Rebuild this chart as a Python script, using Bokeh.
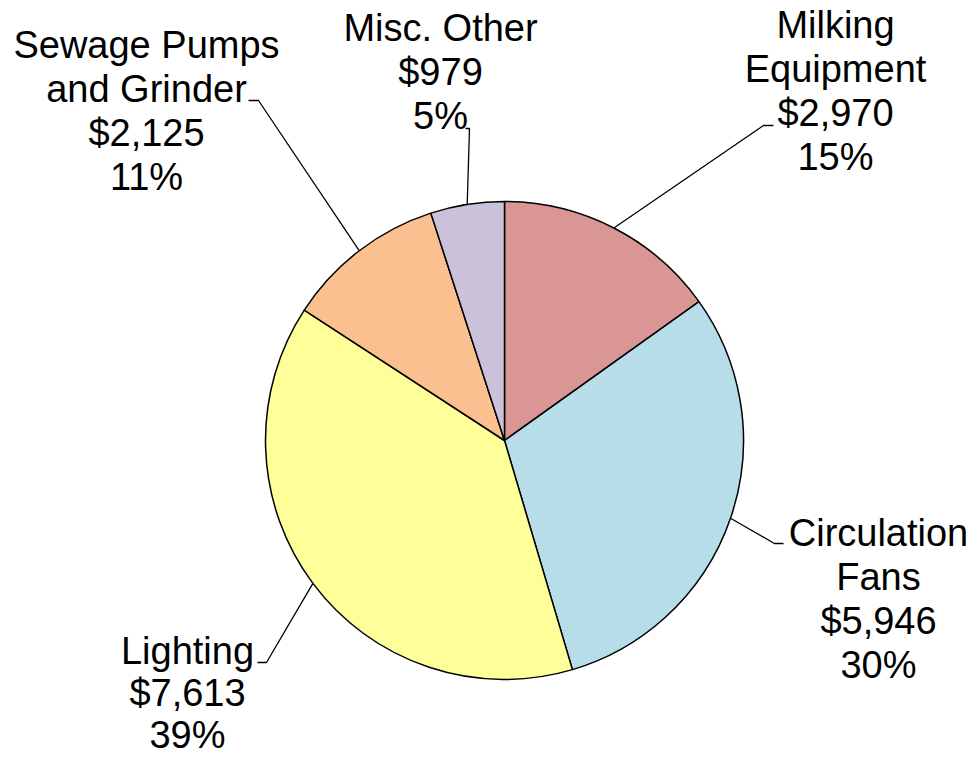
import math
from bokeh.plotting import figure
from bokeh.models import Range1d
from bokeh.core.properties import value
from bokeh.embed import file_html
from bokeh.resources import INLINE

# ---- data ----
categories = ["Milking Equipment", "Circulation Fans", "Lighting",
              "Sewage Pumps and Grinder", "Misc. Other"]
label_lines = [["Milking", "Equipment"], ["Circulation", "Fans"], ["Lighting"],
               ["Sewage Pumps", "and Grinder"], ["Misc. Other"]]
costs = [2970, 5946, 7613, 2125, 979]
colors = ["#D99694", "#B7DDE8", "#FFFF99", "#FAC090", "#CCC1DA"]

W, H = 970, 761
def PX(x): return x
def PY(y): return H - y

# layout (page pixel positions)
CX, CY, R = PX(504), PY(440), 239
label_centers = [835, 878, 187, 146, 440]
label_first_baseline = [24, 532, 650, 44, 27]
label_steps = [44, 44, 42, 44, 44]
elbows = [(763, 125), (774, 543), (266, 662), (258, 100), (469, 128)]
ends = [(773, 125), (783, 543), (257, 662), (248, 100), (465, 128)]

p = figure(width=W, height=H, output_backend="svg", toolbar_location=None,
           x_range=Range1d(0, W), y_range=Range1d(0, H), min_border=0)
p.axis.visible = False
p.grid.visible = False
p.outline_line_color = None
p.background_fill_color = "white"
p.border_fill_color = "white"

total = sum(costs)
starts, endsA, mids = [], [], []
cum = 0.0
for c in costs:
    a0 = math.pi / 2 - 2 * math.pi * cum / total
    cum += c
    a1 = math.pi / 2 - 2 * math.pi * cum / total
    starts.append(a0)
    endsA.append(a1)
    mids.append((a0 + a1) / 2)

p.wedge(x=[CX] * len(costs), y=[CY] * len(costs), radius=R,
        start_angle=starts, end_angle=endsA, direction="clock",
        fill_color=colors, line_color="black", line_width=1.5)

# leader lines
xs, ys = [], []
for m, e, en in zip(mids, elbows, ends):
    ex, ey = CX + R * math.cos(m), CY + R * math.sin(m)
    xs.append([ex, PX(e[0]), PX(en[0])])
    ys.append([ey, PY(e[1]), PY(en[1])])
p.multi_line(xs=xs, ys=ys, line_color="black", line_width=1.3)

# labels
tx, ty, tt = [], [], []
for i, c in enumerate(costs):
    lines = list(label_lines[i]) + [f"${c:,}", f"{round(100 * c / total)}%"]
    for k, s in enumerate(lines):
        tx.append(PX(label_centers[i]))
        ty.append(PY(label_first_baseline[i] + k * label_steps[i]))
        tt.append(s)
p.text(x=tx, y=ty, text=tt, text_font=value("Liberation Sans"),
       text_font_size="38px", text_align="center",
       text_baseline="alphabetic", text_color="black")

open("out.html", "w").write(file_html(p, INLINE))
